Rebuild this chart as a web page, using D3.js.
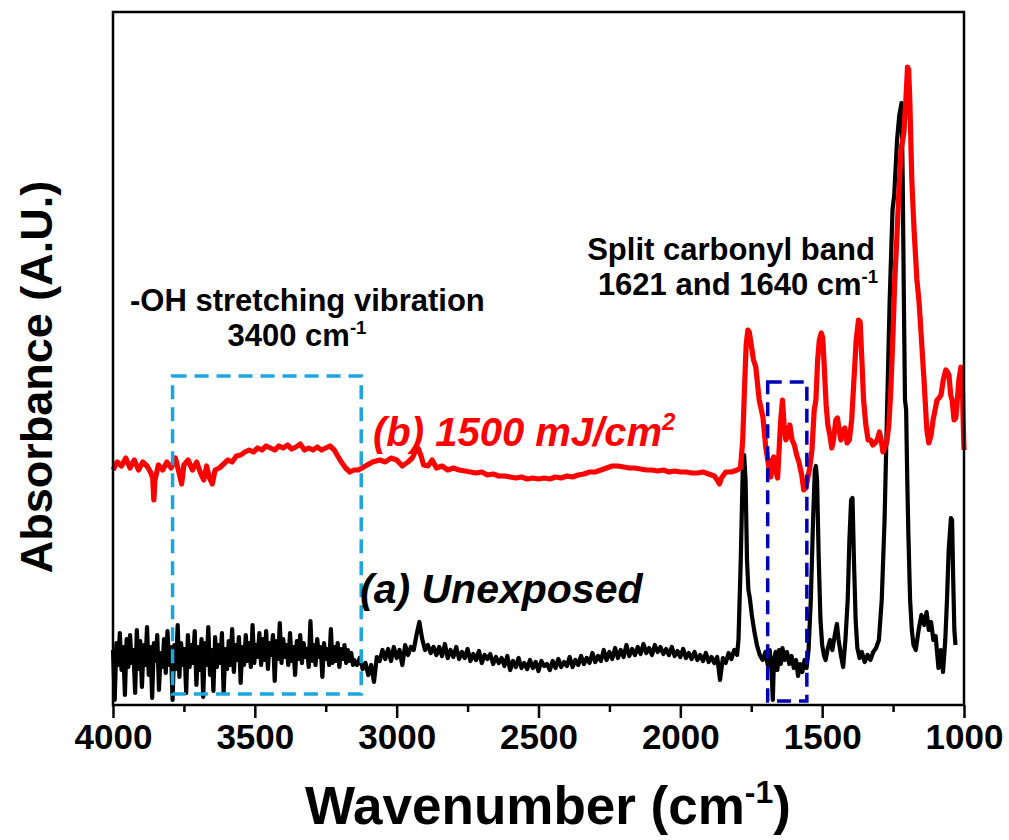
<!DOCTYPE html>
<html>
<head>
<meta charset="utf-8">
<script src="https://cdn.jsdelivr.net/npm/d3@7"></script>
<style>
  html, body { margin: 0; padding: 0; background: #fff; }
  svg { display: block; }
  text { font-family: "Liberation Sans", Arial, sans-serif; font-weight: bold; }
</style>
</head>
<body>
<script>
// ---------------- DATA ----------------
const majorTicks = [4000, 3500, 3000, 2500, 2000, 1500, 1000];
const minorTicks = [3750, 3250, 2750, 2250, 1750, 1250];

// (a) Unexposed, noisy high-wavenumber part: wavenumbers and absorbance (a.u.)
const unexposedNoisyWn = [
4000,3994,3988,3982,3976,3970,3964,3958,3952,3946,
3940,3934,3928,3922,3916,3910,3904,3898,3892,3886,
3880,3874,3868,3862,3856,3850,3844,3838,3832,3826,
3820,3814,3808,3802,3796,3790,3784,3778,3772,3766,
3760,3754,3748,3742,3736,3730,3724,3718,3712,3706,
3700,3694,3688,3682,3676,3670,3664,3658,3652,3646,
3640,3634,3628,3622,3616,3610,3604,3598,3592,3586,
3580,3574,3568,3562,3556,3550,3544,3538,3532,3526,
3520,3514,3508,3502,3496,3490,3484,3478,3472,3466,
3460,3454,3448,3442,3436,3430,3424,3418,3412,3406,
3400,3394,3388,3382,3376,3370,3364,3358,3352,3346,
3340,3334,3328,3322,3316,3310,3304,3298,3292,3286,
3280,3274,3268,3262,3256,3250,3244,3238,3232,3226,
3220,3214,3208,3202,3196,3190,3184,3178,3172,3166,
3160,3154
];
const unexposedNoisyA = [
0.55,0.05,0.62,0.40,0.72,0.35,0.58,0.10,0.66,0.38,
0.70,0.42,0.55,0.12,0.75,0.36,0.64,0.18,0.60,0.40,
0.78,0.30,0.58,0.07,0.62,0.44,0.70,0.15,0.52,0.38,
0.66,0.32,0.74,0.40,0.58,0.05,0.60,0.36,0.80,0.28,
0.62,0.40,0.56,0.12,0.70,0.38,0.60,0.42,0.74,0.20,
0.58,0.35,0.66,0.08,0.62,0.40,0.78,0.30,0.55,0.14,
0.68,0.38,0.60,0.42,0.72,0.12,0.56,0.36,0.64,0.40,
0.76,0.33,0.60,0.45,0.68,0.22,0.58,0.40,0.70,0.44,
0.62,0.38,0.80,0.42,0.60,0.48,0.72,0.40,0.66,0.45,
0.74,0.36,0.62,0.50,0.70,0.24,0.64,0.46,0.82,0.42,
0.66,0.48,0.60,0.40,0.72,0.44,0.58,0.30,0.64,0.46,
0.70,0.42,0.62,0.48,0.56,0.38,0.84,0.44,0.60,0.40,
0.66,0.48,0.58,0.28,0.62,0.46,0.56,0.40,0.76,0.42,
0.58,0.44,0.62,0.38,0.56,0.46,0.60,0.42,0.55,0.44,
0.52,0.40
];

// (a) Unexposed, mid range 3150-1800 cm-1 (10 cm-1 steps)
const unexposedMidWn = [
3150,3140,3130,3120,3110,3100,3090,3080,3070,3060,
3050,3040,3030,3020,3010,3000,2990,2980,2970,2960,
2950,2940,2930,2920,2910,2900,2890,2880,2870,2860,
2850,2840,2830,2820,2810,2800,2790,2780,2770,2760,
2750,2740,2730,2720,2710,2700,2690,2680,2670,2660,
2650,2640,2630,2620,2610,2600,2590,2580,2570,2560,
2550,2540,2530,2520,2510,2500,2490,2480,2470,2460,
2450,2440,2430,2420,2410,2400,2390,2380,2370,2360,
2350,2340,2330,2320,2310,2300,2290,2280,2270,2260,
2250,2240,2230,2220,2210,2200,2190,2180,2170,2160,
2150,2140,2130,2120,2110,2100,2090,2080,2070,2060,
2050,2040,2030,2020,2010,2000,1990,1980,1970,1960,
1950,1940,1930,1920,1910,1900,1890,1880,1870,1860,
1850,1840,1830,1820,1810,1800
];
const unexposedMidA = [
0.45,0.40,0.47,0.36,0.42,0.30,0.40,0.23,0.48,0.44,
0.55,0.46,0.56,0.44,0.58,0.47,0.55,0.40,0.60,0.50,
0.58,0.55,0.70,0.83,0.66,0.55,0.60,0.52,0.58,0.50,
0.58,0.49,0.61,0.47,0.55,0.48,0.58,0.46,0.53,0.47,
0.56,0.44,0.51,0.45,0.54,0.42,0.50,0.46,0.51,0.41,
0.48,0.42,0.47,0.39,0.49,0.35,0.44,0.38,0.47,0.37,
0.42,0.36,0.45,0.37,0.43,0.34,0.44,0.39,0.41,0.35,
0.44,0.37,0.46,0.38,0.43,0.39,0.48,0.38,0.45,0.40,
0.49,0.41,0.47,0.42,0.52,0.43,0.49,0.44,0.55,0.45,
0.53,0.46,0.57,0.47,0.55,0.48,0.60,0.49,0.56,0.50,
0.58,0.51,0.61,0.52,0.57,0.50,0.60,0.53,0.58,0.51,
0.56,0.50,0.58,0.49,0.54,0.48,0.56,0.47,0.52,0.46,
0.53,0.45,0.50,0.44,0.52,0.43,0.48,0.42,0.48,0.25,
0.47,0.42,0.52,0.46,0.55,0.50
];

// (a) Unexposed, fingerprint region  [wavenumber, absorbance]
const unexposedPeaks = [
[1795,0.65],[1787,1.45],[1780,2.35],[1775,2.50],[1770,2.25],[1765,1.45],[1760,1.15],
[1755,1.07],[1748,0.90],[1740,0.75],[1730,0.60],[1720,0.50],[1710,0.45],[1700,0.53],[1692,0.40],
[1685,0.55],[1678,0.33],[1674,0.05],[1670,0.45],[1664,0.53],[1658,0.35],[1652,0.55],[1646,0.41],
[1640,0.57],[1632,0.45],[1624,0.53],[1616,0.41],[1608,0.49],[1600,0.37],[1592,0.45],[1585,0.29],
[1578,0.41],[1570,0.33],[1562,0.45],[1555,0.37],[1548,0.55],[1540,1.05],[1532,1.85],[1526,2.35],
[1522,2.39],[1518,2.25],[1512,1.45],[1506,0.85],[1500,0.60],[1494,0.50],[1488,0.45],[1480,0.57],
[1472,0.65],[1464,0.55],[1456,0.69],[1448,0.81],[1442,0.65],[1434,0.50],[1426,0.38],[1418,0.65],
[1410,1.05],[1404,1.65],[1398,2.05],[1393,2.07],[1388,1.45],[1382,0.85],[1376,0.57],[1368,0.47],
[1360,0.53],[1350,0.43],[1340,0.50],[1330,0.45],[1320,0.53],[1310,0.57],[1300,0.65],[1290,1.05],
[1280,1.85],[1272,2.85],[1262,4.05],[1252,4.95],[1246,5.10],[1236,5.65],[1228,5.90],[1220,6.02],
[1216,5.25],[1212,4.05],[1208,3.05],[1204,2.95],[1200,2.25],[1196,1.70],[1190,1.05],[1184,0.75],
[1178,0.60],[1170,0.55],[1160,0.75],[1150,0.90],[1140,0.80],[1132,0.93],[1124,0.75],[1116,0.83],
[1108,0.65],[1100,0.69],[1090,0.37],[1082,0.55],[1074,0.33],[1066,0.65],[1060,1.05],[1054,1.55],
[1046,1.87],[1042,1.85],[1038,1.25],[1034,0.75],[1030,0.60]
];

// (b) 1500 mJ/cm2  [wavenumber, absorbance (a.u.)]
const exposed1500 = [
[4000,2.35],[3985,2.43],[3970,2.39],[3955,2.47],[3940,2.37],[3925,2.45],[3910,2.35],[3895,2.43],
[3880,2.39],[3868,2.33],[3860,2.27],[3856,2.05],[3852,2.25],[3840,2.40],[3825,2.35],[3810,2.43],
[3795,2.37],[3780,2.47],[3768,2.33],[3758,2.21],[3750,2.40],[3735,2.45],[3720,2.35],[3705,2.43],
[3690,2.31],[3680,2.25],[3670,2.39],[3660,2.27],[3650,2.21],[3640,2.35],[3625,2.37],[3610,2.41],
[3595,2.45],[3580,2.43],[3565,2.49],[3550,2.50],[3535,2.53],[3520,2.55],[3505,2.53],[3490,2.57],
[3475,2.55],[3460,2.59],[3445,2.57],[3430,2.55],[3415,2.59],[3400,2.57],[3385,2.60],[3370,2.56],
[3355,2.58],[3340,2.61],[3325,2.55],[3310,2.57],[3295,2.55],[3280,2.58],[3265,2.55],[3250,2.57],
[3235,2.59],[3220,2.55],[3210,2.50],[3195,2.43],[3180,2.37],[3165,2.33],[3150,2.35],[3135,2.35],
[3110,2.39],[3085,2.43],[3060,2.45],[3040,2.43],[3020,2.47],[3000,2.45],[2980,2.39],[2960,2.43],
[2945,2.47],[2935,2.53],[2925,2.57],[2915,2.50],[2905,2.40],[2890,2.39],[2875,2.45],[2860,2.37],
[2840,2.39],[2820,2.35],[2800,2.37],[2780,2.35],[2760,2.34],[2740,2.33],[2720,2.32],[2700,2.33],
[2680,2.30],[2660,2.31],[2640,2.29],[2620,2.29],[2600,2.28],[2580,2.27],[2560,2.28],[2540,2.26],
[2520,2.27],[2500,2.26],[2480,2.27],[2460,2.26],[2440,2.28],[2420,2.27],[2400,2.29],[2380,2.28],
[2360,2.30],[2340,2.31],[2320,2.33],[2300,2.33],[2280,2.35],[2260,2.37],[2240,2.39],[2220,2.39],
[2200,2.38],[2180,2.37],[2160,2.37],[2140,2.36],[2120,2.35],[2100,2.35],[2080,2.34],[2060,2.35],
[2040,2.33],[2020,2.34],[2000,2.33],[1980,2.33],[1960,2.32],[1940,2.32],[1920,2.33],[1900,2.31],
[1880,2.29],[1870,2.25],[1862,2.21],[1855,2.27],[1840,2.33],[1820,2.33],[1800,2.35],[1788,2.37],
[1780,2.65],[1774,3.15],[1768,3.60],[1762,3.75],[1757,3.73],[1750,3.60],[1742,3.45],[1734,3.38],
[1722,3.05],[1709,2.88],[1699,2.58],[1688,2.38],[1681,2.28],[1675,2.45],[1671,2.48],[1664,2.35],
[1657,2.27],[1650,2.65],[1646,2.85],[1640,3.05],[1634,2.80],[1628,2.65],[1620,2.70],[1614,2.80],
[1606,2.65],[1598,2.60],[1590,2.50],[1582,2.43],[1572,2.30],[1565,2.15],[1558,2.17],[1552,2.25],
[1544,2.37],[1536,2.55],[1528,2.95],[1522,3.05],[1516,3.45],[1510,3.65],[1503,3.72],[1498,3.67],
[1492,3.35],[1486,3.00],[1480,2.80],[1473,2.70],[1466,2.57],[1460,2.65],[1452,2.85],[1446,2.87],
[1440,2.75],[1434,2.65],[1426,2.75],[1420,2.77],[1412,2.62],[1404,2.65],[1396,2.85],[1388,3.25],
[1380,3.65],[1372,3.85],[1366,3.83],[1360,3.45],[1354,3.05],[1346,2.80],[1338,2.65],[1330,2.65],
[1321,2.60],[1313,2.62],[1306,2.65],[1298,2.73],[1292,2.65],[1286,2.53],[1280,2.57],[1272,2.63],
[1265,2.80],[1258,3.15],[1251,3.65],[1244,4.25],[1237,4.65],[1230,5.10],[1222,5.55],[1212,5.72],
[1205,6.05],[1199,6.38],[1195,6.35],[1191,6.05],[1184,5.25],[1176,4.75],[1166,4.25],[1159,4.05],
[1152,3.75],[1141,3.25],[1131,2.75],[1124,2.62],[1116,2.70],[1109,2.85],[1102,2.95],[1095,3.05],
[1088,3.07],[1081,3.10],[1073,3.25],[1064,3.35],[1058,3.33],[1053,3.30],[1047,3.10],[1042,3.05],
[1035,2.85],[1029,2.87],[1025,3.00],[1018,3.25],[1011,3.38],[1006,3.25],[1003,2.85],[1000,2.55]
];

// annotation boxes in data units: [wn from, wn to, a.u. low, a.u. high]
const ohBox = [3790, 3125, 0.11, 3.29];
const carbonylBox = [1692, 1554, 0.04, 3.23];

// build the full unexposed series from its parts
const unexposed = []
  .concat(unexposedNoisyWn.map((w, i) => [w, unexposedNoisyA[i]]))
  .concat(unexposedMidWn.map((w, i) => [w, unexposedMidA[i]]))
  .concat(unexposedPeaks);

// ---------------- CHART ----------------
const W = 1009, H = 840;
const svg = d3.select("body").append("svg").attr("width", W).attr("height", H);

const x = d3.scaleLinear().domain([4000, 1000]).range([113, 964]);
const y = d3.scaleLinear().domain([0, 6.93]).range([705, 12]);

const line = d3.line().x(d => x(d[0])).y(d => y(d[1]));

// curves
svg.append("path").datum(unexposed).attr("d", line)
  .attr("fill", "none").attr("stroke", "#000").attr("stroke-width", 4.2)
  .attr("stroke-linejoin", "round");
svg.append("path").datum(exposed1500).attr("d", line)
  .attr("fill", "none").attr("stroke", "#ff0000").attr("stroke-width", 5.2)
  .attr("stroke-linejoin", "round");

// frame
svg.append("rect")
  .attr("x", x(4000)).attr("y", y(6.93))
  .attr("width", x(1000) - x(4000)).attr("height", y(0) - y(6.93))
  .attr("fill", "none").attr("stroke", "#000").attr("stroke-width", 2.5);

// axes
const gx = svg.append("g").attr("transform", `translate(0,${y(0)})`)
  .call(d3.axisBottom(x).tickValues(majorTicks).tickSize(13).tickSizeOuter(0).tickPadding(6)
        .tickFormat(d3.format("d")));
gx.select(".domain").remove();
gx.selectAll(".tick line").attr("stroke", "#000").attr("stroke-width", 2.5);
gx.selectAll(".tick text").attr("font-size", 35).attr("font-family", '"Liberation Sans", Arial, sans-serif')
  .attr("font-weight", "bold").attr("fill", "#000");

const gm = svg.append("g").attr("transform", `translate(0,${y(0)})`)
  .call(d3.axisBottom(x).tickValues(minorTicks).tickSize(7).tickSizeOuter(0).tickFormat(""));
gm.select(".domain").remove();
gm.selectAll(".tick line").attr("stroke", "#000").attr("stroke-width", 2.5);

// axis titles
const xt = svg.append("text").attr("x", 548).attr("y", 824)
  .attr("text-anchor", "middle").attr("font-size", 53).attr("fill", "#000");
xt.append("tspan").text("Wavenumber (cm");
xt.append("tspan").text("-1").attr("font-size", 32).attr("dy", -21);
xt.append("tspan").text(")").attr("dy", 21);

svg.append("text").attr("transform", "translate(52,377) rotate(-90)")
  .attr("text-anchor", "middle").attr("font-size", 45).attr("fill", "#000")
  .text("Absorbance (A.U.)");

// dashed boxes
function box(b, color) {
  svg.append("rect")
    .attr("x", x(b[0])).attr("y", y(b[3]))
    .attr("width", x(b[1]) - x(b[0])).attr("height", y(b[2]) - y(b[3]))
    .attr("fill", "none").attr("stroke", color).attr("stroke-width", 3.5)
    .attr("stroke-dasharray", "14,8");
}
box(ohBox, "#1ba6e0");
box(carbonylBox, "#0000b4");

// annotations
function supText(xp, yp, anchor, size, main, sup, tail, fill, italic) {
  const t = svg.append("text").attr("x", xp).attr("y", yp).attr("text-anchor", anchor)
    .attr("font-size", size).attr("fill", fill || "#000");
  if (italic) t.attr("font-style", "italic");
  t.append("tspan").text(main);
  if (sup) {
    t.append("tspan").text(sup).attr("font-size", size * 0.6).attr("dy", -size * 0.4);
    if (tail) t.append("tspan").text(tail).attr("dy", size * 0.4);
  }
  return t;
}
supText(130, 311, "start", 31, "-OH stretching vibration");
supText(297, 346, "middle", 31, "3400 cm", "-1");
supText(731, 260, "middle", 31, "Split carbonyl band");
supText(738, 295, "middle", 31, "1621 and 1640 cm", "-1");
supText(373, 446, "start", 40, "(b) 1500 mJ/cm", "2", null, "#ff0000", true);
supText(360, 603, "start", 41, "(a) Unexposed", null, null, "#000", true);
</script>
</body>
</html>
